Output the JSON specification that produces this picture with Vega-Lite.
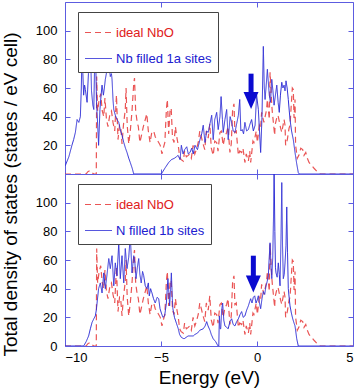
{
  "$schema": "https://vega.github.io/schema/vega-lite/v6.json",
  "background": "white",
  "padding": {"left": 0, "top": 1, "right": 0, "bottom": 0},
  "bounds": "flush",
  "spacing": 0,
  "config": {
    "font": "Liberation Sans",
    "view": {"stroke": "#5c5ce0", "strokeWidth": 1},
    "axis": {"grid": false, "domain": false, "tickColor": "#5c5ce0", "tickSize": -5, "tickWidth": 1, "labelFontSize": 13, "labelColor": "black", "labelFont": "Liberation Sans", "titleFont": "Liberation Sans", "titleFontSize": 19, "titleFontWeight": "normal", "titleColor": "black"},
    "legend": {"orient": "none", "legendX": 13, "legendY": 10, "strokeColor": "#444444", "fillColor": "white", "padding": 6, "symbolType": "stroke", "symbolSize": 729, "symbolStrokeWidth": 1.2, "labelFontSize": 13, "labelFont": "Liberation Sans", "labelOffset": 3, "rowPadding": 4, "cornerRadius": 0, "labelColor": {"expr": "datum.label === 'ideal NbO' ? '#e02020' : '#2020d0'"}}
  },
  "datasets": {
    "red": [
      {"E": -10, "D": 0}, {"E": -8.9, "D": 0}, {"E": -8.82, "D": 1.5}, {"E": -8.7, "D": 2.5}, {"E": -8.6, "D": 1}, {"E": -8.5, "D": 0}, {"E": -8.37, "D": 0},
      {"E": -8.35, "D": 68}, {"E": -8.3, "D": 44}, {"E": -8.22, "D": 52}, {"E": -8.14, "D": 56}, {"E": -8.06, "D": 44}, {"E": -7.98, "D": 40}, {"E": -7.92, "D": 53}, {"E": -7.84, "D": 38}, {"E": -7.76, "D": 33}, {"E": -7.66, "D": 42}, {"E": -7.58, "D": 44}, {"E": -7.5, "D": 36}, {"E": -7.41, "D": 30}, {"E": -7.32, "D": 55}, {"E": -7.24, "D": 24}, {"E": -7.16, "D": 34}, {"E": -7.1, "D": 33}, {"E": -7.03, "D": 21}, {"E": -6.95, "D": 35}, {"E": -6.86, "D": 45}, {"E": -6.82, "D": 60}, {"E": -6.76, "D": 34}, {"E": -6.68, "D": 21}, {"E": -6.6, "D": 30}, {"E": -6.51, "D": 44}, {"E": -6.42, "D": 63}, {"E": -6.38, "D": 67}, {"E": -6.32, "D": 44}, {"E": -6.24, "D": 36}, {"E": -6.18, "D": 33}, {"E": -6.1, "D": 22}, {"E": -6.0, "D": 28}, {"E": -5.92, "D": 33}, {"E": -5.82, "D": 38}, {"E": -5.74, "D": 42}, {"E": -5.66, "D": 30}, {"E": -5.57, "D": 22}, {"E": -5.48, "D": 29}, {"E": -5.38, "D": 30}, {"E": -5.3, "D": 26}, {"E": -5.22, "D": 24}, {"E": -5.12, "D": 22}, {"E": -5.04, "D": 20}, {"E": -4.95, "D": 14}, {"E": -4.88, "D": 18}, {"E": -4.8, "D": 22}, {"E": -4.72, "D": 45}, {"E": -4.67, "D": 52}, {"E": -4.6, "D": 28}, {"E": -4.53, "D": 44}, {"E": -4.47, "D": 46}, {"E": -4.4, "D": 25}, {"E": -4.32, "D": 22}, {"E": -4.25, "D": 33}, {"E": -4.18, "D": 26}, {"E": -4.1, "D": 20}, {"E": -4.03, "D": 12}, {"E": -3.95, "D": 10}, {"E": -3.84, "D": 9}, {"E": -3.77, "D": 16}, {"E": -3.68, "D": 12}, {"E": -3.58, "D": 13}, {"E": -3.51, "D": 14}, {"E": -3.42, "D": 11}, {"E": -3.33, "D": 20}, {"E": -3.24, "D": 14}, {"E": -3.16, "D": 17}, {"E": -3.06, "D": 22}, {"E": -2.98, "D": 30}, {"E": -2.9, "D": 26}, {"E": -2.81, "D": 21}, {"E": -2.72, "D": 17}, {"E": -2.64, "D": 30}, {"E": -2.54, "D": 25}, {"E": -2.46, "D": 35}, {"E": -2.38, "D": 18}, {"E": -2.28, "D": 13}, {"E": -2.2, "D": 23}, {"E": -2.1, "D": 22}, {"E": -2.03, "D": 16}, {"E": -1.93, "D": 29}, {"E": -1.86, "D": 30}, {"E": -1.76, "D": 20}, {"E": -1.68, "D": 26}, {"E": -1.58, "D": 29}, {"E": -1.51, "D": 33}, {"E": -1.41, "D": 15}, {"E": -1.34, "D": 21}, {"E": -1.27, "D": 45}, {"E": -1.2, "D": 49}, {"E": -1.15, "D": 29}, {"E": -1.08, "D": 30}, {"E": -0.97, "D": 13}, {"E": -0.9, "D": 16}, {"E": -0.8, "D": 15}, {"E": -0.73, "D": 18}, {"E": -0.63, "D": 8}, {"E": -0.56, "D": 14}, {"E": -0.45, "D": 9}, {"E": -0.38, "D": 16}, {"E": -0.33, "D": 8}, {"E": -0.21, "D": 23}, {"E": -0.16, "D": 22}, {"E": -0.04, "D": 30}, {"E": 0.02, "D": 22}, {"E": 0.12, "D": 34}, {"E": 0.19, "D": 32}, {"E": 0.24, "D": 43}, {"E": 0.36, "D": 36}, {"E": 0.5, "D": 45}, {"E": 0.54, "D": 52}, {"E": 0.64, "D": 38}, {"E": 0.68, "D": 71}, {"E": 0.77, "D": 48}, {"E": 0.8, "D": 43}, {"E": 0.92, "D": 27}, {"E": 0.94, "D": 34}, {"E": 1.06, "D": 41}, {"E": 1.11, "D": 40}, {"E": 1.23, "D": 32}, {"E": 1.29, "D": 29}, {"E": 1.41, "D": 38}, {"E": 1.46, "D": 34}, {"E": 1.49, "D": 20}, {"E": 1.58, "D": 24}, {"E": 1.67, "D": 32}, {"E": 1.72, "D": 34}, {"E": 1.84, "D": 60}, {"E": 1.89, "D": 59}, {"E": 1.93, "D": 39}, {"E": 1.98, "D": 52}, {"E": 2.01, "D": 20}, {"E": 2.1, "D": 11}, {"E": 2.18, "D": 13}, {"E": 2.28, "D": 18}, {"E": 2.38, "D": 17}, {"E": 2.45, "D": 13}, {"E": 2.54, "D": 15}, {"E": 2.62, "D": 11}, {"E": 2.71, "D": 8}, {"E": 2.85, "D": 6}, {"E": 2.97, "D": 4}, {"E": 3.11, "D": 2}, {"E": 3.28, "D": 0}, {"E": 5, "D": 0}
    ],
    "top": [
      {"E": -10, "D": 6}, {"E": -9.98, "D": 6}, {"E": -9.8, "D": 12}, {"E": -9.64, "D": 20}, {"E": -9.55, "D": 24}, {"E": -9.46, "D": 29}, {"E": -9.37, "D": 38}, {"E": -9.28, "D": 36}, {"E": -9.2, "D": 40}, {"E": -9.15, "D": 60}, {"E": -9.11, "D": 90}, {"E": -9.07, "D": 70}, {"E": -9.03, "D": 55}, {"E": -8.98, "D": 62}, {"E": -8.94, "D": 59}, {"E": -8.85, "D": 50}, {"E": -8.78, "D": 70}, {"E": -8.72, "D": 100}, {"E": -8.68, "D": 92}, {"E": -8.62, "D": 58}, {"E": -8.55, "D": 48}, {"E": -8.5, "D": 45}, {"E": -8.46, "D": 75}, {"E": -8.42, "D": 95}, {"E": -8.36, "D": 50}, {"E": -8.3, "D": 35}, {"E": -8.25, "D": 20}, {"E": -8.18, "D": 45}, {"E": -8.12, "D": 55}, {"E": -8.07, "D": 62}, {"E": -8.0, "D": 55}, {"E": -7.95, "D": 60}, {"E": -7.9, "D": 66}, {"E": -7.82, "D": 72}, {"E": -7.76, "D": 80}, {"E": -7.72, "D": 83}, {"E": -7.67, "D": 72}, {"E": -7.64, "D": 68}, {"E": -7.58, "D": 70}, {"E": -7.55, "D": 66}, {"E": -7.5, "D": 52}, {"E": -7.46, "D": 45}, {"E": -7.38, "D": 41}, {"E": -7.29, "D": 38}, {"E": -7.2, "D": 36}, {"E": -7.12, "D": 31}, {"E": -7.03, "D": 27}, {"E": -6.94, "D": 22}, {"E": -6.85, "D": 18}, {"E": -6.77, "D": 15}, {"E": -6.68, "D": 11}, {"E": -6.6, "D": 8}, {"E": -6.5, "D": 4}, {"E": -6.42, "D": 0}, {"E": -4.98, "D": 0}, {"E": -4.8, "D": 4}, {"E": -4.6, "D": 8}, {"E": -4.46, "D": 10}, {"E": -4.3, "D": 11}, {"E": -4.2, "D": 12}, {"E": -4.11, "D": 13}, {"E": -4.01, "D": 10}, {"E": -3.94, "D": 20}, {"E": -3.85, "D": 14}, {"E": -3.77, "D": 17}, {"E": -3.66, "D": 19}, {"E": -3.58, "D": 14}, {"E": -3.49, "D": 15}, {"E": -3.4, "D": 18}, {"E": -3.32, "D": 14}, {"E": -3.23, "D": 20}, {"E": -3.1, "D": 17}, {"E": -2.97, "D": 24}, {"E": -2.88, "D": 28}, {"E": -2.8, "D": 34}, {"E": -2.71, "D": 22}, {"E": -2.62, "D": 30}, {"E": -2.54, "D": 29}, {"E": -2.45, "D": 35}, {"E": -2.36, "D": 41}, {"E": -2.28, "D": 24}, {"E": -2.2, "D": 38}, {"E": -2.1, "D": 43}, {"E": -2.02, "D": 31}, {"E": -1.93, "D": 40}, {"E": -1.87, "D": 54}, {"E": -1.8, "D": 38}, {"E": -1.76, "D": 29}, {"E": -1.67, "D": 38}, {"E": -1.58, "D": 45}, {"E": -1.5, "D": 24}, {"E": -1.4, "D": 40}, {"E": -1.32, "D": 36}, {"E": -1.24, "D": 30}, {"E": -1.15, "D": 29}, {"E": -1.06, "D": 35}, {"E": -0.97, "D": 41}, {"E": -0.9, "D": 52}, {"E": -0.84, "D": 30}, {"E": -0.77, "D": 31}, {"E": -0.7, "D": 28}, {"E": -0.63, "D": 36}, {"E": -0.54, "D": 30}, {"E": -0.45, "D": 31}, {"E": -0.36, "D": 35}, {"E": -0.28, "D": 38}, {"E": -0.19, "D": 30}, {"E": -0.1, "D": 34}, {"E": -0.02, "D": 55}, {"E": 0.07, "D": 45}, {"E": 0.13, "D": 30}, {"E": 0.19, "D": 15}, {"E": 0.26, "D": 40}, {"E": 0.33, "D": 89}, {"E": 0.38, "D": 60}, {"E": 0.42, "D": 52}, {"E": 0.48, "D": 62}, {"E": 0.54, "D": 73}, {"E": 0.59, "D": 64}, {"E": 0.64, "D": 55}, {"E": 0.7, "D": 50}, {"E": 0.77, "D": 66}, {"E": 0.83, "D": 58}, {"E": 0.89, "D": 48}, {"E": 0.96, "D": 55}, {"E": 1.03, "D": 62}, {"E": 1.1, "D": 50}, {"E": 1.16, "D": 43}, {"E": 1.22, "D": 55}, {"E": 1.29, "D": 64}, {"E": 1.35, "D": 60}, {"E": 1.41, "D": 62}, {"E": 1.46, "D": 58}, {"E": 1.51, "D": 65}, {"E": 1.57, "D": 60}, {"E": 1.63, "D": 52}, {"E": 1.68, "D": 44}, {"E": 1.72, "D": 38}, {"E": 1.8, "D": 30}, {"E": 1.89, "D": 24}, {"E": 1.98, "D": 15}, {"E": 2.07, "D": 7}, {"E": 2.15, "D": 1}, {"E": 2.2, "D": 0}, {"E": 5, "D": 0}
    ],
    "bot": [
      {"E": -10, "D": 0}, {"E": -9.03, "D": 0}, {"E": -8.9, "D": 3}, {"E": -8.77, "D": 7}, {"E": -8.68, "D": 12}, {"E": -8.59, "D": 16.5}, {"E": -8.5, "D": 19}, {"E": -8.42, "D": 21}, {"E": -8.37, "D": 25}, {"E": -8.33, "D": 30}, {"E": -8.25, "D": 40}, {"E": -8.16, "D": 44}, {"E": -8.07, "D": 37}, {"E": -7.98, "D": 51}, {"E": -7.9, "D": 40}, {"E": -7.81, "D": 50}, {"E": -7.72, "D": 61}, {"E": -7.64, "D": 54}, {"E": -7.55, "D": 63}, {"E": -7.46, "D": 42}, {"E": -7.38, "D": 58}, {"E": -7.29, "D": 49}, {"E": -7.2, "D": 72}, {"E": -7.12, "D": 47}, {"E": -7.03, "D": 63}, {"E": -6.94, "D": 44}, {"E": -6.86, "D": 68}, {"E": -6.77, "D": 54}, {"E": -6.68, "D": 62}, {"E": -6.6, "D": 77}, {"E": -6.51, "D": 51}, {"E": -6.42, "D": 63}, {"E": -6.36, "D": 58}, {"E": -6.3, "D": 47}, {"E": -6.23, "D": 55}, {"E": -6.16, "D": 61}, {"E": -6.1, "D": 50}, {"E": -6.03, "D": 44}, {"E": -5.96, "D": 52}, {"E": -5.9, "D": 49}, {"E": -5.82, "D": 42}, {"E": -5.73, "D": 40}, {"E": -5.66, "D": 44}, {"E": -5.61, "D": 35}, {"E": -5.54, "D": 40}, {"E": -5.47, "D": 37}, {"E": -5.39, "D": 33}, {"E": -5.3, "D": 30}, {"E": -5.2, "D": 34}, {"E": -5.12, "D": 33}, {"E": -5.05, "D": 26}, {"E": -4.98, "D": 23}, {"E": -4.9, "D": 20}, {"E": -4.81, "D": 21}, {"E": -4.72, "D": 30}, {"E": -4.64, "D": 47}, {"E": -4.58, "D": 35}, {"E": -4.55, "D": 28}, {"E": -4.5, "D": 40}, {"E": -4.46, "D": 51}, {"E": -4.41, "D": 33}, {"E": -4.38, "D": 26}, {"E": -4.3, "D": 20}, {"E": -4.2, "D": 16}, {"E": -4.1, "D": 12}, {"E": -4.03, "D": 8}, {"E": -3.94, "D": 6}, {"E": -3.8, "D": 5}, {"E": -3.59, "D": 7}, {"E": -3.32, "D": 7}, {"E": -3.24, "D": 8}, {"E": -3.1, "D": 9}, {"E": -2.98, "D": 11}, {"E": -2.8, "D": 12}, {"E": -2.7, "D": 14}, {"E": -2.62, "D": 17}, {"E": -2.55, "D": 14}, {"E": -2.45, "D": 11}, {"E": -2.38, "D": 8}, {"E": -2.28, "D": 5}, {"E": -2.15, "D": 3}, {"E": -2.03, "D": 0}, {"E": -1.99, "D": 0}, {"E": -1.96, "D": 21}, {"E": -1.92, "D": 12}, {"E": -1.89, "D": 12}, {"E": -1.84, "D": 25}, {"E": -1.79, "D": 30}, {"E": -1.73, "D": 18}, {"E": -1.67, "D": 14}, {"E": -1.58, "D": 13}, {"E": -1.5, "D": 12}, {"E": -1.41, "D": 17}, {"E": -1.32, "D": 19}, {"E": -1.24, "D": 15}, {"E": -1.15, "D": 14}, {"E": -1.06, "D": 17}, {"E": -0.97, "D": 19}, {"E": -0.88, "D": 22}, {"E": -0.8, "D": 24}, {"E": -0.72, "D": 20}, {"E": -0.63, "D": 21}, {"E": -0.54, "D": 25}, {"E": -0.45, "D": 28}, {"E": -0.38, "D": 31}, {"E": -0.33, "D": 33}, {"E": -0.26, "D": 30}, {"E": -0.19, "D": 34}, {"E": -0.12, "D": 35}, {"E": -0.05, "D": 30}, {"E": 0.01, "D": 32}, {"E": 0.07, "D": 35}, {"E": 0.13, "D": 30}, {"E": 0.19, "D": 26}, {"E": 0.26, "D": 33}, {"E": 0.33, "D": 38}, {"E": 0.4, "D": 36}, {"E": 0.47, "D": 42}, {"E": 0.53, "D": 45}, {"E": 0.59, "D": 49}, {"E": 0.63, "D": 60}, {"E": 0.68, "D": 72}, {"E": 0.73, "D": 55}, {"E": 0.77, "D": 47}, {"E": 0.82, "D": 62}, {"E": 0.86, "D": 90}, {"E": 0.89, "D": 125}, {"E": 0.93, "D": 80}, {"E": 0.96, "D": 55}, {"E": 0.99, "D": 51}, {"E": 1.05, "D": 48}, {"E": 1.11, "D": 58}, {"E": 1.16, "D": 50}, {"E": 1.2, "D": 42}, {"E": 1.25, "D": 75}, {"E": 1.29, "D": 114}, {"E": 1.33, "D": 70}, {"E": 1.37, "D": 47}, {"E": 1.42, "D": 50}, {"E": 1.46, "D": 58}, {"E": 1.51, "D": 70}, {"E": 1.55, "D": 97}, {"E": 1.59, "D": 65}, {"E": 1.63, "D": 40}, {"E": 1.68, "D": 33}, {"E": 1.72, "D": 28}, {"E": 1.79, "D": 23}, {"E": 1.86, "D": 19}, {"E": 1.93, "D": 16}, {"E": 1.98, "D": 14}, {"E": 2.03, "D": 9}, {"E": 2.07, "D": 5}, {"E": 2.15, "D": 0}, {"E": 5, "D": 0}
    ],
    "arrowTop": [{"E": -0.31, "D1": 70, "D2": 57, "H": 51.3}],
    "arrowBot": [{"E": -0.19, "D1": 63, "D2": 48.5, "H": 43.3}]
  },
  "resolve": {"scale": {"color": "independent", "strokeDash": "independent"}},
  "vconcat": [
    {
      "width": 288,
      "height": 172,
      "layer": [
        {
          "data": {"name": "red"},
          "mark": {"type": "line", "strokeWidth": 1.2, "opacity": 0.8, "clip": true},
          "encoding": {
            "x": {"field": "E", "type": "quantitative", "scale": {"domain": [-10, 5], "nice": false}, "axis": {"orient": "bottom", "values": [-10, -5, 0, 5], "labels": false, "title": null}},
            "y": {"field": "D", "type": "quantitative", "scale": {"domain": [0, 120], "nice": false}, "axis": {"orient": "left", "values": [20, 40, 60, 80, 100], "labelPadding": 13, "title": "Total density of states (states / eV cell)", "titleX": -49, "titleY": 192, "titleAngle": -90, "titleAlign": "center", "titleBaseline": "alphabetic"}},
            "color": {"datum": "ideal NbO", "scale": {"domain": ["ideal NbO", "Nb filled 1a sites"], "range": ["#e52b2b", "#2e2ed6"]}, "legend": {"title": null}},
            "strokeDash": {"datum": "ideal NbO", "scale": {"domain": ["ideal NbO", "Nb filled 1a sites"], "range": [[6, 4], [1, 0]]}, "legend": {"title": null}}
          }
        },
        {
          "data": {"name": "top"},
          "mark": {"type": "line", "strokeWidth": 1, "clip": true},
          "encoding": {
            "x": {"field": "E", "type": "quantitative", "axis": {"orient": "top", "values": [-10, -5, 0, 5], "labels": false, "title": null}},
            "y": {"field": "D", "type": "quantitative", "axis": {"orient": "right", "values": [20, 40, 60, 80, 100], "labels": false, "title": null}},
            "color": {"datum": "Nb filled 1a sites"},
            "strokeDash": {"datum": "Nb filled 1a sites"}
          }
        },
        {
          "mark": {"type": "rule", "color": "#e52b2b", "strokeDash": [6, 4], "strokeWidth": 1.2, "opacity": 0.8},
          "encoding": {"x": {"datum": 1.98, "type": "quantitative", "axis": null}}
        },
        {
          "data": {"name": "arrowTop"},
          "mark": {"type": "rule", "color": "#0a0ad0", "strokeWidth": 5},
          "encoding": {"x": {"field": "E", "type": "quantitative", "axis": null}, "y": {"field": "D1", "type": "quantitative", "axis": null}, "y2": {"field": "D2"}}
        },
        {
          "data": {"name": "arrowTop"},
          "mark": {"type": "point", "shape": "M-0.88,-1L0.88,-1L0,1Z", "size": 289, "filled": true, "color": "#0a0ad0", "opacity": 1},
          "encoding": {"x": {"field": "E", "type": "quantitative", "axis": null}, "y": {"field": "H", "type": "quantitative", "axis": null}}
        }
      ]
    },
    {
      "width": 288,
      "height": 172,
      "layer": [
        {
          "data": {"name": "red"},
          "mark": {"type": "line", "strokeWidth": 1.2, "opacity": 0.8, "clip": true},
          "encoding": {
            "x": {"field": "E", "type": "quantitative", "scale": {"domain": [-10, 5], "nice": false}, "axis": {"orient": "bottom", "values": [-10, -5, 0, 5], "labelPadding": 10, "title": "Energy (eV)", "titlePadding": 4}},
            "y": {"field": "D", "type": "quantitative", "scale": {"domain": [0, 120], "nice": false}, "axis": {"orient": "left", "values": [0, 20, 40, 60, 80, 100], "labelPadding": 13, "title": null}},
            "color": {"datum": "ideal NbO", "scale": {"domain": ["ideal NbO", "N filled 1b sites"], "range": ["#e52b2b", "#2e2ed6"]}, "legend": {"title": null}},
            "strokeDash": {"datum": "ideal NbO", "scale": {"domain": ["ideal NbO", "N filled 1b sites"], "range": [[6, 4], [1, 0]]}, "legend": {"title": null}}
          }
        },
        {
          "data": {"name": "bot"},
          "mark": {"type": "line", "strokeWidth": 1, "clip": true},
          "encoding": {
            "x": {"field": "E", "type": "quantitative", "axis": {"orient": "top", "values": [-10, -5, 0, 5], "labels": false, "title": null}},
            "y": {"field": "D", "type": "quantitative", "axis": {"orient": "right", "values": [20, 40, 60, 80, 100], "labels": false, "title": null}},
            "color": {"datum": "N filled 1b sites"},
            "strokeDash": {"datum": "N filled 1b sites"}
          }
        },
        {
          "mark": {"type": "rule", "color": "#e52b2b", "strokeDash": [6, 4], "strokeWidth": 1.2, "opacity": 0.8},
          "encoding": {"x": {"datum": 1.98, "type": "quantitative", "axis": null}}
        },
        {
          "data": {"name": "arrowBot"},
          "mark": {"type": "rule", "color": "#0a0ad0", "strokeWidth": 5},
          "encoding": {"x": {"field": "E", "type": "quantitative", "axis": null}, "y": {"field": "D1", "type": "quantitative", "axis": null}, "y2": {"field": "D2"}}
        },
        {
          "data": {"name": "arrowBot"},
          "mark": {"type": "point", "shape": "M-0.88,-1L0.88,-1L0,1Z", "size": 289, "filled": true, "color": "#0a0ad0", "opacity": 1},
          "encoding": {"x": {"field": "E", "type": "quantitative", "axis": null}, "y": {"field": "H", "type": "quantitative", "axis": null}}
        }
      ]
    }
  ]
}
